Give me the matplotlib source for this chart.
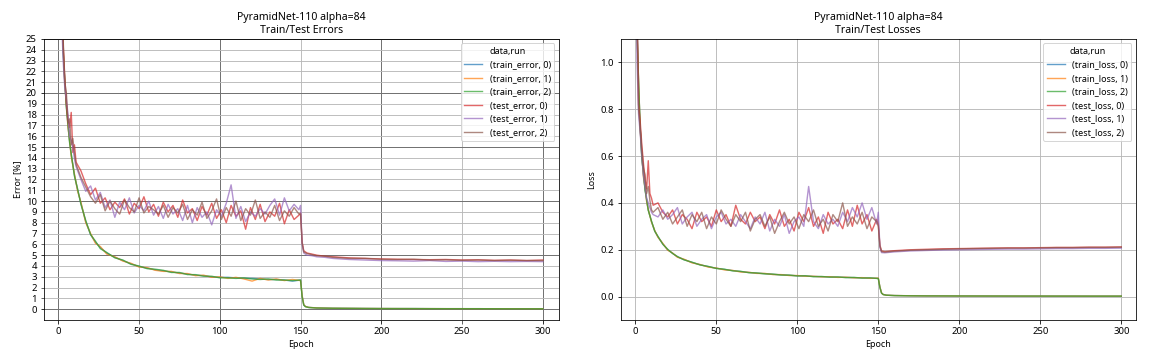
import matplotlib
matplotlib.use('Agg')
import matplotlib.pyplot as plt
from matplotlib.ticker import MultipleLocator, FixedLocator, FormatStrFormatter

plt.rcParams['font.family'] = ['Noto Sans', 'DejaVu Sans']

# эпохи, на которых сняты значения
TRAIN_EPOCHS = ([0, 1, 2, 3, 4, 5, 6, 7, 8, 10, 12, 14, 17, 20, 23, 26]
                + list(range(30, 151, 5)) + [151, 152, 153, 155]
                + list(range(160, 301, 10)))
TEST_EPOCHS = (list(range(0, 12)) + list(range(14, 150, 3))
               + [150, 151, 152, 154, 157, 160, 165, 170]
               + list(range(180, 301, 10)))

# ошибки, %
train_error_0 = [70, 45, 31, 24, 21, 18.8, 17, 15.5, 14.3, 12.4, 11, 9.8, 8.1, 6.9, 6.2, 5.7,
                 5.2, 4.8, 4.5, 4.2, 3.95, 3.8, 3.65, 3.55, 3.45, 3.35, 3.25, 3.15, 3.1, 3.0, 2.95,
                 2.95, 2.9, 2.85, 2.85, 2.8, 2.75, 2.75, 2.7, 2.6, 2.7,
                 1.2, 0.4, 0.25, 0.17,
                 0.12, 0.09, 0.08, 0.07, 0.065, 0.06, 0.06, 0.055, 0.05, 0.05, 0.05, 0.045, 0.045, 0.04, 0.04]
train_error_1 = [69, 44, 30.5, 24.3, 20.8, 18.9, 16.8, 15.6, 14.1, 12.5, 10.9, 9.9, 8.0, 7.0, 6.1, 5.8,
                 5.1, 4.85, 4.45, 4.25, 3.9, 3.85, 3.6, 3.5, 3.5, 3.3, 3.3, 3.1, 3.15, 2.95, 3.0,
                 2.85, 2.95, 2.8, 2.6, 2.85, 2.7, 2.8, 2.65, 2.75, 2.65,
                 1.25, 0.42, 0.26, 0.17,
                 0.12, 0.09, 0.08, 0.07, 0.065, 0.06, 0.055, 0.055, 0.05, 0.05, 0.045, 0.045, 0.045, 0.04, 0.04]
train_error_2 = [71, 46, 31.5, 23.8, 21.2, 18.6, 17.1, 15.4, 14.4, 12.3, 11.1, 9.7, 8.2, 6.9, 6.3, 5.6,
                 5.25, 4.75, 4.55, 4.15, 4.0, 3.75, 3.7, 3.6, 3.4, 3.4, 3.2, 3.2, 3.05, 3.05, 2.9,
                 2.9, 2.85, 2.9, 2.8, 2.75, 2.8, 2.7, 2.7, 2.65, 2.7,
                 1.15, 0.38, 0.24, 0.16,
                 0.11, 0.09, 0.08, 0.07, 0.06, 0.06, 0.06, 0.05, 0.05, 0.05, 0.05, 0.045, 0.04, 0.04, 0.04]

test_error_0 = [62, 40, 29, 24.5, 21.5, 19.0, 17.5, 16.8, 18.2, 14.5, 15.2, 13.6,
                12.8, 11.6, 10.6, 11.2, 9.8, 10.3, 9.2, 9.9, 9.4, 10.2, 8.8, 9.8, 9.3, 10.4, 9.0, 9.7,
                8.6, 9.9, 9.0, 9.6, 8.5, 10.1, 8.9, 9.3, 8.2, 9.5, 8.7, 9.8, 8.4, 9.2, 8.0, 9.6, 8.6,
                9.1, 7.4, 9.4, 8.3, 9.7, 8.1, 9.0, 8.6, 9.8, 7.9, 9.2, 8.3, 8.7,
                8.9, 6.2, 5.4, 5.2, 5.1, 5.0, 4.9, 4.85,
                4.75, 4.7, 4.65, 4.62, 4.6, 4.58, 4.6, 4.55, 4.57, 4.52, 4.55, 4.5, 4.55]
test_error_1 = [58, 38, 27, 23.0, 20.5, 19.4, 18.0, 16.0, 15.6, 15.0, 13.9, 13.2,
                12.0, 10.9, 11.4, 10.1, 10.8, 9.4, 10.1, 8.5, 9.9, 9.2, 10.3, 8.9, 9.6, 9.1, 10.0, 8.7,
                9.5, 8.4, 9.7, 8.8, 9.3, 8.2, 9.6, 8.0, 9.4, 8.5, 9.0, 7.8, 9.2, 8.6, 9.8, 11.5, 8.4,
                9.5, 8.1, 9.0, 8.6, 9.3, 8.8, 9.6, 10.2, 8.7, 10.3, 9.1, 9.7, 9.2,
                9.6, 6.0, 5.2, 5.0, 4.95, 4.85, 4.8, 4.7,
                4.6, 4.55, 4.5, 4.48, 4.45, 4.5, 4.42, 4.45, 4.4, 4.43, 4.4, 4.42, 4.4]
test_error_2 = [60, 39, 28, 25.0, 21.0, 20.0, 17.2, 17.6, 15.2, 15.8, 14.4, 13.4,
                12.2, 11.3, 10.4, 9.8, 10.6, 9.1, 10.0, 9.3, 8.8, 10.1, 9.4, 9.0, 10.3, 8.9, 9.5, 9.2,
                8.8, 9.6, 8.5, 9.4, 8.9, 9.7, 8.3, 9.2, 8.7, 9.9, 8.4, 9.1, 10.2, 8.3, 9.4, 8.6, 10.0,
                8.2, 9.3, 8.7, 10.1, 8.4, 9.0, 8.5, 9.6, 8.2, 9.1, 8.6, 9.4, 8.8,
                8.8, 6.1, 5.3, 5.15, 5.05, 4.95, 4.9, 4.8,
                4.7, 4.7, 4.62, 4.6, 4.62, 4.55, 4.57, 4.52, 4.55, 4.5, 4.53, 4.5, 4.5]

# потери
train_loss_0 = [1.6, 1.15, 0.92, 0.72, 0.6, 0.52, 0.46, 0.41, 0.37, 0.32, 0.28, 0.255, 0.225, 0.2, 0.185, 0.17,
                0.158, 0.146, 0.136, 0.128, 0.121, 0.116, 0.111, 0.107, 0.103, 0.1, 0.098, 0.095, 0.093,
                0.091, 0.089, 0.088, 0.086, 0.085, 0.084, 0.083, 0.082, 0.081, 0.08, 0.079, 0.078,
                0.04, 0.015, 0.009, 0.006,
                0.0045, 0.0035, 0.003, 0.0028, 0.0026, 0.0025, 0.0024, 0.0023, 0.0022, 0.0022, 0.0021,
                0.0021, 0.002, 0.002, 0.002]
train_loss_1 = [1.58, 1.13, 0.93, 0.71, 0.61, 0.51, 0.465, 0.405, 0.372, 0.318, 0.282, 0.253, 0.227, 0.198, 0.186, 0.168,
                0.16, 0.144, 0.137, 0.126, 0.122, 0.114, 0.112, 0.105, 0.104, 0.099, 0.099, 0.094, 0.094,
                0.09, 0.09, 0.087, 0.087, 0.084, 0.085, 0.082, 0.083, 0.08, 0.081, 0.078, 0.079,
                0.041, 0.016, 0.009, 0.006,
                0.0046, 0.0036, 0.003, 0.0028, 0.0026, 0.0025, 0.0024, 0.0023, 0.0022, 0.0022, 0.0021,
                0.0021, 0.002, 0.002, 0.002]
train_loss_2 = [1.62, 1.16, 0.91, 0.73, 0.59, 0.53, 0.455, 0.415, 0.368, 0.322, 0.279, 0.257, 0.223, 0.202, 0.184, 0.171,
                0.157, 0.147, 0.135, 0.129, 0.12, 0.117, 0.11, 0.108, 0.102, 0.101, 0.097, 0.096, 0.092,
                0.092, 0.088, 0.089, 0.085, 0.086, 0.083, 0.084, 0.081, 0.082, 0.079, 0.08, 0.077,
                0.039, 0.015, 0.009, 0.006,
                0.0044, 0.0034, 0.003, 0.0028, 0.0026, 0.0025, 0.0024, 0.0023, 0.0022, 0.0022, 0.0021,
                0.0021, 0.002, 0.002, 0.002]

test_loss_0 = [2.2, 1.3, 0.82, 0.75, 0.65, 0.57, 0.5, 0.46, 0.58, 0.44, 0.42, 0.39,
               0.40, 0.36, 0.34, 0.37, 0.31, 0.35, 0.33, 0.29, 0.36, 0.32, 0.34, 0.30, 0.37, 0.32, 0.35,
               0.30, 0.39, 0.33, 0.31, 0.36, 0.32, 0.34, 0.29, 0.35, 0.31, 0.37, 0.30, 0.33, 0.28, 0.36,
               0.32, 0.38, 0.30, 0.34, 0.27, 0.36, 0.31, 0.33, 0.29, 0.37, 0.30, 0.39, 0.31, 0.35, 0.28, 0.33,
               0.31, 0.22, 0.195, 0.192, 0.194, 0.196, 0.198, 0.2,
               0.202, 0.204, 0.205, 0.206, 0.207, 0.208, 0.208, 0.209, 0.21, 0.21, 0.211, 0.211, 0.212]
test_loss_1 = [2.0, 1.02, 0.78, 0.7, 0.6, 0.52, 0.47, 0.42, 0.4, 0.38, 0.36, 0.35,
               0.34, 0.37, 0.33, 0.35, 0.38, 0.31, 0.34, 0.36, 0.30, 0.33, 0.35, 0.29, 0.34, 0.36, 0.31,
               0.33, 0.30, 0.35, 0.32, 0.29, 0.34, 0.31, 0.36, 0.28, 0.33, 0.30, 0.35, 0.27, 0.32, 0.34,
               0.30, 0.47, 0.32, 0.29, 0.35, 0.31, 0.33, 0.30, 0.36, 0.32, 0.38, 0.34, 0.40, 0.33, 0.38, 0.31,
               0.36, 0.21, 0.188, 0.187, 0.189, 0.191, 0.193, 0.195,
               0.197, 0.199, 0.2, 0.201, 0.202, 0.203, 0.203, 0.204, 0.205, 0.205, 0.206, 0.206, 0.207]
test_loss_2 = [2.1, 1.25, 0.8, 0.72, 0.63, 0.55, 0.52, 0.44, 0.47, 0.41, 0.37, 0.36,
               0.38, 0.33, 0.36, 0.31, 0.34, 0.37, 0.30, 0.35, 0.32, 0.36, 0.29, 0.34, 0.31, 0.37, 0.33,
               0.30, 0.35, 0.32, 0.36, 0.28, 0.33, 0.35, 0.30, 0.34, 0.27, 0.32, 0.36, 0.31, 0.34, 0.29,
               0.35, 0.32, 0.37, 0.30, 0.33, 0.28, 0.35, 0.32, 0.40, 0.30, 0.34, 0.31, 0.36, 0.29, 0.34, 0.32,
               0.30, 0.215, 0.192, 0.19, 0.192, 0.194, 0.196, 0.198,
               0.2, 0.202, 0.204, 0.205, 0.206, 0.207, 0.207, 0.208, 0.209, 0.209, 0.21, 0.21, 0.211]

error_series = [('train_error', 0, TRAIN_EPOCHS, train_error_0),
                ('train_error', 1, TRAIN_EPOCHS, train_error_1),
                ('train_error', 2, TRAIN_EPOCHS, train_error_2),
                ('test_error', 0, TEST_EPOCHS, test_error_0),
                ('test_error', 1, TEST_EPOCHS, test_error_1),
                ('test_error', 2, TEST_EPOCHS, test_error_2)]
loss_series = [('train_loss', 0, TRAIN_EPOCHS, train_loss_0),
               ('train_loss', 1, TRAIN_EPOCHS, train_loss_1),
               ('train_loss', 2, TRAIN_EPOCHS, train_loss_2),
               ('test_loss', 0, TEST_EPOCHS, test_loss_0),
               ('test_loss', 1, TEST_EPOCHS, test_loss_1),
               ('test_loss', 2, TEST_EPOCHS, test_loss_2)]

fig, (ax1, ax2) = plt.subplots(1, 2, figsize=(16, 5), dpi=72)
fig.subplots_adjust(left=0.038, right=0.986, bottom=0.111, top=0.892, wspace=0.12)

for name, run, ep, vals in error_series:
    ax1.plot(ep, vals, lw=1.4, alpha=0.7, label=f'({name}, {run})')
for name, run, ep, vals in loss_series:
    ax2.plot(ep, vals, lw=1.4, alpha=0.7, label=f'({name}, {run})')

# ошибки: крупная и мелкая сетка
ax1.set_xlim(-9, 310)
ax1.set_ylim(-1, 25)
ax1.xaxis.set_major_locator(MultipleLocator(100))
ax1.xaxis.set_minor_locator(MultipleLocator(50))
ax1.yaxis.set_major_locator(FixedLocator(range(0, 26, 5)))
ax1.yaxis.set_minor_locator(FixedLocator(range(0, 26)))
ax1.xaxis.set_minor_formatter(FormatStrFormatter('%d'))
ax1.yaxis.set_minor_formatter(FormatStrFormatter('%d'))
ax1.tick_params(which='both', length=3.5, labelsize=9.5)
ax1.grid(which='major', color='0.45', lw=1.0)
ax1.grid(which='minor', color='0.72', lw=0.9)
ax1.set_title('PyramidNet-110 alpha=84\nTrain/Test Errors', fontsize=10.5)
ax1.set_xlabel('Epoch', fontsize=9)
ax1.set_ylabel('Error [%]', fontsize=9)

ax2.set_xlim(-9, 309)
ax2.set_ylim(-0.1, 1.1)
ax2.tick_params(labelsize=9.5)
ax2.grid(color='0.72', lw=0.9)
ax2.set_title('PyramidNet-110 alpha=84\nTrain/Test Losses', fontsize=10.5)
ax2.set_xlabel('Epoch', fontsize=9)
ax2.set_ylabel('Loss', fontsize=9)

for ax in (ax1, ax2):
    ax.legend(title='data,run', loc='upper right', fontsize=9, title_fontsize=9)

plt.savefig('out.png')
